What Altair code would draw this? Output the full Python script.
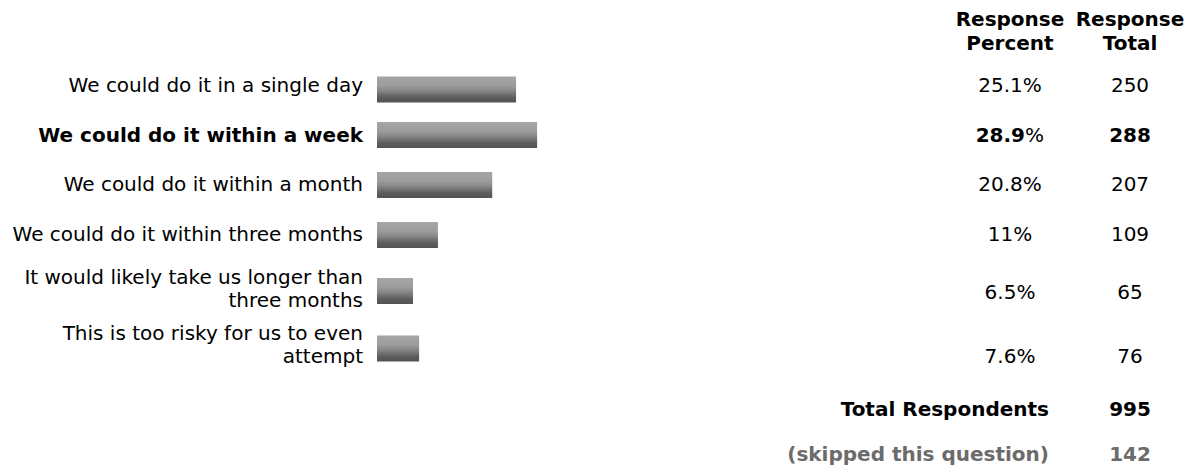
import altair as alt
import pandas as pd

# ---- data ----
categories = [
    "We could do it in a single day",
    "We could do it within a week",
    "We could do it within a month",
    "We could do it within three months",
    "It would likely take us longer than\nthree months",
    "This is too risky for us to even\nattempt",
]
percents = [25.1, 28.9, 20.8, 11.0, 6.5, 7.6]
percent_text = ["25.1", "28.9", "20.8", "11", "6.5", "7.6"]
totals = [250, 288, 207, 109, 65, 76]
column_names = ["Response Percent", "Response Total"]
column_headers = ["Response\nPercent", "Response\nTotal"]
summary_labels = ["Total Respondents", "(skipped this question)"]
summary_values = [995, 142]

# ---- tables ----
n = len(categories)
df = pd.DataFrame({
    "row": list(range(n)),
    "category": categories,
    "pct": percents,
    "pct_text": percent_text,
    "total": totals,
})
df["is_max"] = df["pct"] == df["pct"].max()
df["pct_label"] = df["pct_text"] + "%"

cells = pd.concat([
    pd.DataFrame({"row": df["row"], "column": column_names[0],
                  "text": df["pct_label"], "is_max": df["is_max"]}),
    pd.DataFrame({"row": df["row"], "column": column_names[1],
                  "text": df["total"].astype(str), "is_max": df["is_max"]}),
], ignore_index=True)

headers = pd.DataFrame({"row": [-1, -1], "column": column_names, "text": column_headers})

summary = pd.DataFrame({
    "row": [n, n + 1],
    "label": summary_labels,
    "value": [str(v) for v in summary_values],
    "kind": ["total", "skipped"],
    "pcol": column_names[0],
    "tcol": column_names[1],
})

# ---- scales ----
FONT = "DejaVu Sans"
XB = alt.Scale(domain=[0, 100], range=[369, 923], zero=True, nice=False)
XC = alt.Scale(type="point", domain=column_names, range=[1002, 1122], padding=0)
Y_BARS = alt.Scale(domain=[0, 1, 2, 3, 4, 5], range=[77, 127, 177, 227, 283, 346],
                   zero=False, nice=False)
Y_LABELS = alt.Scale(domain=[0, 1, 2, 3, 4, 5], range=[78, 128, 177, 227, 270, 326],
                     zero=False, nice=False)
Y_TEXT = alt.Scale(domain=[-1, 0, 1, 2, 3, 4, 5, 6, 7],
                   range=[12, 78, 128, 177, 227, 285, 349, 402, 447],
                   zero=False, nice=False)

gradient = alt.Gradient(
    gradient="linear",
    stops=[
        alt.GradientStop(color="#a6a6a6", offset=0),
        alt.GradientStop(color="#9c9c9c", offset=0.35),
        alt.GradientStop(color="#878787", offset=0.55),
        alt.GradientStop(color="#6e6e6e", offset=0.7),
        alt.GradientStop(color="#5c5c5c", offset=0.82),
        alt.GradientStop(color="#535353", offset=1),
    ],
    x1=0, x2=0, y1=0, y2=1,
)

base = alt.Chart(df)

bars = base.mark_bar(orient="horizontal", size=26, color=gradient).encode(
    x=alt.X("pct:Q", scale=XB, axis=None),
    x2=alt.datum(0),
    y=alt.Y("row:Q", scale=Y_BARS, axis=None),
)

label_kw = dict(align="right", baseline="middle", dx=-14, fontSize=20, font=FONT,
                lineBreak="\n", lineHeight=23, color="#000000")
labels = base.transform_filter("!datum.is_max").mark_text(**label_kw).encode(
    x=alt.X(datum=0, type="quantitative", scale=XB, axis=None),
    y=alt.Y("row:Q", scale=Y_LABELS, axis=None),
    text="category:N",
)
labels_bold = base.transform_filter("datum.is_max").mark_text(
    fontWeight="bold", **label_kw).encode(
    x=alt.X(datum=0, type="quantitative", scale=XB, axis=None),
    y=alt.Y("row:Q", scale=Y_LABELS, axis=None),
    text="category:N",
)

cell_kw = dict(baseline="middle", fontSize=20, font=FONT, color="#000000")
cbase = alt.Chart(cells)
cell_plain = cbase.transform_filter("!datum.is_max").mark_text(
    align="center", **cell_kw).encode(
    x=alt.X("column:N", scale=XC, axis=None),
    y=alt.Y("row:Q", scale=Y_TEXT, axis=None),
    text="text:N",
)
# highlighted row: bold number, plain "%"
cell_max_pct_num = cbase.transform_filter(
    f"datum.is_max && datum.column == '{column_names[0]}'").transform_calculate(
    num="replace(datum.text, '%', '')").mark_text(
    align="right", dx=15, fontWeight="bold", **cell_kw).encode(
    x=alt.X("column:N", scale=XC, axis=None),
    y=alt.Y("row:Q", scale=Y_TEXT, axis=None),
    text="num:N",
)
cell_max_pct_sign = cbase.transform_filter(
    f"datum.is_max && datum.column == '{column_names[0]}'").mark_text(
    align="left", dx=15, **cell_kw).encode(
    x=alt.X("column:N", scale=XC, axis=None),
    y=alt.Y("row:Q", scale=Y_TEXT, axis=None),
    text=alt.value("%"),
)
cell_max_total = cbase.transform_filter(
    f"datum.is_max && datum.column == '{column_names[1]}'").mark_text(
    align="center", fontWeight="bold", **cell_kw).encode(
    x=alt.X("column:N", scale=XC, axis=None),
    y=alt.Y("row:Q", scale=Y_TEXT, axis=None),
    text="text:N",
)

header = alt.Chart(headers).mark_text(
    align="center", baseline="middle", fontSize=20, font=FONT, fontWeight="bold",
    lineBreak="\n", lineHeight=24, color="#000000").encode(
    x=alt.X("column:N", scale=XC, axis=None),
    y=alt.Y("row:Q", scale=Y_TEXT, axis=None),
    text="text:N",
)

sbase = alt.Chart(summary)
sum_color = alt.condition("datum.kind == 'skipped'", alt.value("#6b6b6b"), alt.value("#000000"))
sum_labels = sbase.mark_text(align="right", baseline="middle", dx=39, fontSize=20,
                             font=FONT, fontWeight="bold").encode(
    x=alt.X("pcol:N", scale=XC, axis=None),
    y=alt.Y("row:Q", scale=Y_TEXT, axis=None),
    text="label:N",
    color=sum_color,
)
sum_values = sbase.mark_text(align="center", baseline="middle", fontSize=20,
                             font=FONT, fontWeight="bold").encode(
    x=alt.X("tcol:N", scale=XC, axis=None),
    y=alt.Y("row:Q", scale=Y_TEXT, axis=None),
    text="value:N",
    color=sum_color,
)

chart = alt.layer(
    bars, labels, labels_bold, header, cell_plain, cell_max_pct_num,
    cell_max_pct_sign, cell_max_total, sum_labels, sum_values,
).resolve_scale(x="independent", y="independent", color="independent").properties(
    width=1180, height=458,
    autosize=alt.AutoSizeParams(type="none"),
    padding=0,
    background="#ffffff",
).configure_view(stroke=None)

chart.save("out.html", embed_options={"renderer": "svg", "actions": False})
